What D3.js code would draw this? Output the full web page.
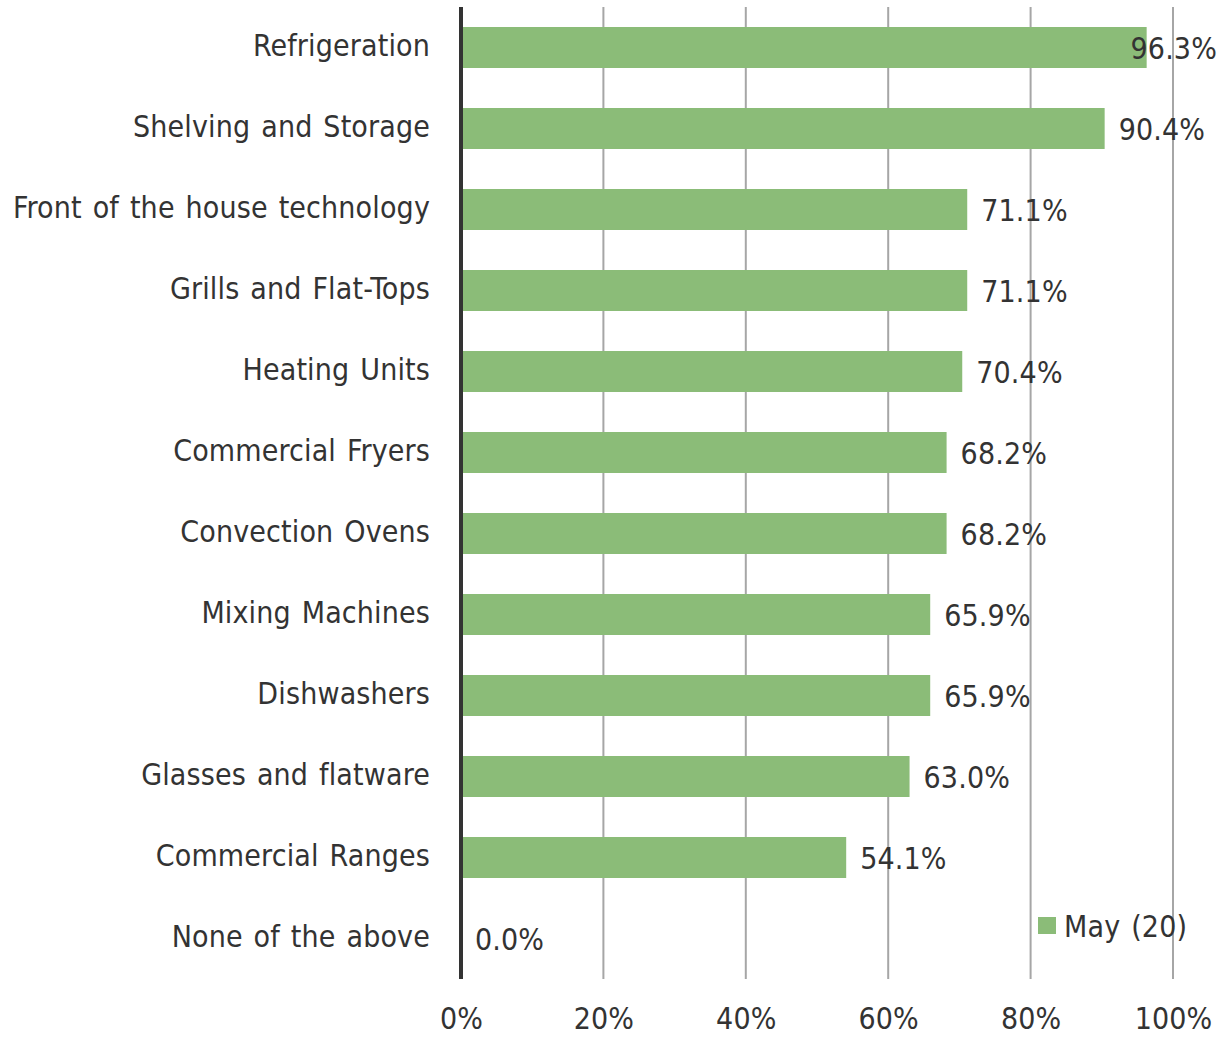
<!DOCTYPE html>
<html>
<head>
<meta charset="utf-8">
<script src="https://cdn.jsdelivr.net/npm/d3@7"></script>
<style>
  html, body { margin: 0; padding: 0; background: #fff; }
  svg text { font-family: "DejaVu Sans", Verdana, sans-serif; font-stretch: condensed; fill: #333; word-spacing: 2.2px; letter-spacing: 0.15px; }
</style>
</head>
<body>
<svg id="chart" width="1224" height="1037"></svg>
<script>
// Equipment categories, top to bottom
const categories = [
  "Refrigeration",
  "Shelving and Storage",
  "Front of the house technology",
  "Grills and Flat-Tops",
  "Heating Units",
  "Commercial Fryers",
  "Convection Ovens",
  "Mixing Machines",
  "Dishwashers",
  "Glasses and flatware",
  "Commercial Ranges",
  "None of the above"
];
// Share of respondents, May (20)
const values = [0.963, 0.904, 0.711, 0.711, 0.704, 0.682, 0.682, 0.659, 0.659, 0.630, 0.541, 0.0];
const seriesName = "May (20)";
const tickValues = [0, 0.2, 0.4, 0.6, 0.8, 1.0];

const W = 1224, H = 1037;
const margin = { left: 461, right: 51, top: 7, bottom: 58 };
const fontSize = 30;
const barColor = "#8bbc78";

const svg = d3.select("#chart");

const x = d3.scaleLinear().domain([0, 1]).range([margin.left, W - margin.right]);
const y = d3.scaleBand()
  .domain(categories)
  .range([margin.top, H - margin.bottom])
  .paddingInner(0.494)
  .paddingOuter(0.247);

// Vertical gridlines
svg.append("g")
  .selectAll("line")
  .data(tickValues.filter(d => d > 0))
  .join("line")
  .attr("x1", d => x(d)).attr("x2", d => x(d))
  .attr("y1", margin.top).attr("y2", H - margin.bottom)
  .attr("stroke", "#a6a6a6")
  .attr("stroke-width", 2);

// Bars
svg.append("g")
  .selectAll("rect")
  .data(values)
  .join("rect")
  .attr("x", x(0))
  .attr("y", (d, i) => y(categories[i]))
  .attr("width", d => x(d) - x(0))
  .attr("height", y.bandwidth())
  .attr("fill", barColor);

// Category axis line
svg.append("line")
  .attr("x1", x(0)).attr("x2", x(0))
  .attr("y1", margin.top).attr("y2", H - margin.bottom)
  .attr("stroke", "#333")
  .attr("stroke-width", 4);

// Category labels
const yAxis = d3.axisLeft(y).tickSize(0).tickPadding(31);
const yg = svg.append("g").attr("transform", `translate(${x(0)},-1)`).call(yAxis);
yg.select(".domain").remove();
yg.selectAll("text")
  .attr("font-size", fontSize)
  .attr("fill", "#333")
  .style("font-family", null);

// Value axis labels
const xAxis = d3.axisBottom(x).tickValues(tickValues).tickFormat(d3.format(".0%")).tickSize(0).tickPadding(29);
const xg = svg.append("g").attr("transform", `translate(0,${H - margin.bottom})`).call(xAxis);
xg.select(".domain").remove();
xg.selectAll("text")
  .attr("font-size", fontSize)
  .attr("fill", "#333")
  .style("font-family", null);

// Data labels, kept inside the chart's right edge
const fmt = d3.format(".1%");
svg.append("g")
  .selectAll("text")
  .data(values)
  .join("text")
  .attr("font-size", fontSize)
  .attr("dominant-baseline", "central")
  .attr("y", (d, i) => y(categories[i]) + y.bandwidth() / 2 + 1)
  .text(d => fmt(d))
  .each(function (d) {
    const w = this.getComputedTextLength();
    const xs = Math.min(x(d) + 14, W - 7 - w);
    d3.select(this).attr("x", xs);
  });

// Legend
const lg = svg.append("g").attr("transform", `translate(1038,917)`);
lg.append("rect").attr("width", 18).attr("height", 17).attr("fill", barColor);
lg.append("text")
  .attr("x", 26).attr("y", 9)
  .attr("dominant-baseline", "central")
  .attr("font-size", fontSize)
  .text(seriesName);
</script>
</body>
</html>
